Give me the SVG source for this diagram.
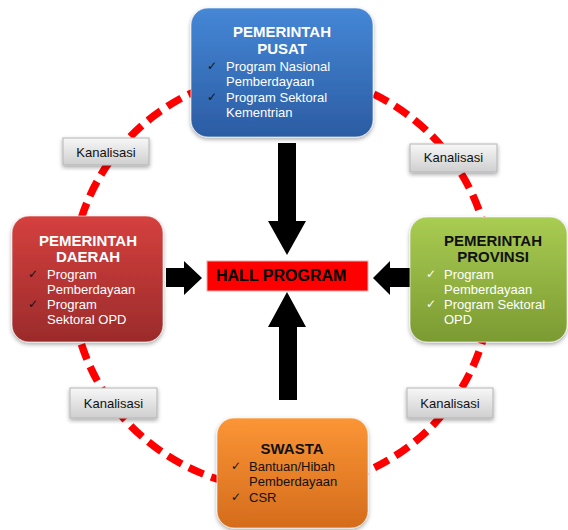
<svg xmlns="http://www.w3.org/2000/svg" width="568" height="530" viewBox="0 0 568 530">
<defs>
<linearGradient id="gBlue" x1="0" y1="0" x2="0" y2="1"><stop offset="0" stop-color="#4587d6"/><stop offset="1" stop-color="#2b5ca3"/></linearGradient>
<linearGradient id="gRed" x1="0" y1="0" x2="0" y2="1"><stop offset="0" stop-color="#d5403e"/><stop offset="1" stop-color="#9b2b2b"/></linearGradient>
<linearGradient id="gGreen" x1="0" y1="0" x2="0" y2="1"><stop offset="0" stop-color="#a9cc52"/><stop offset="1" stop-color="#7b9a32"/></linearGradient>
<linearGradient id="gOrange" x1="0" y1="0" x2="0" y2="1"><stop offset="0" stop-color="#fb9535"/><stop offset="1" stop-color="#d46c1c"/></linearGradient>
<linearGradient id="gLabel" x1="0" y1="0" x2="0" y2="1"><stop offset="0" stop-color="#f7f7f7"/><stop offset="1" stop-color="#cfcfcf"/></linearGradient>
<filter id="sh" x="-10%" y="-10%" width="120%" height="130%"><feDropShadow dx="0" dy="2" stdDeviation="2" flood-color="#000" flood-opacity="0.35"/></filter>
</defs>
<style>
.box{stroke:#ffffff;stroke-opacity:0.6;stroke-width:1;filter:url(#sh)}
.t{font-family:"Liberation Sans",Arial,sans-serif}
.title{font-size:15px;font-weight:bold;text-anchor:middle}
.item{font-size:13px}
.chk{font-family:"DejaVu Sans",sans-serif;font-size:12px}
.w{fill:#ffffff}
.k{fill:#111111}
.lab rect{fill:url(#gLabel);stroke:#b5b5b5;stroke-width:1}
.lab text{font-family:"Liberation Sans",Arial,sans-serif;font-size:13px;fill:#111;text-anchor:middle}
.arr{fill:#000}
</style>
<g id="connectors">
<ellipse cx="281.5" cy="281" rx="210" ry="208" fill="none" stroke="#ff0000" stroke-width="7.5" stroke-dasharray="16 8"/>
<path class="arr" d="M278,143 H296 V221 H306 L287,255 L268,221 H278 Z"/>
<path class="arr" d="M279,400 H297 V327 H306 L287,292 L268,327 H279 Z"/>
<path class="arr" d="M166,268 H184 V261 L202,278 L184,295 V287 H166 Z"/>
<path class="arr" d="M410,268 H390 V261 L373,278 L390,295 V287 H410 Z"/>
</g>
<g id="label-tl" class="lab"><rect x="63" y="138" width="86" height="27" filter="url(#sh)"/><text x="106" y="157">Kanalisasi</text></g>
<g id="label-tr" class="lab"><rect x="410" y="144" width="87" height="28" filter="url(#sh)"/><text x="453.5" y="162">Kanalisasi</text></g>
<g id="label-bl" class="lab"><rect x="70" y="388" width="87" height="30" filter="url(#sh)"/><text x="113.5" y="408">Kanalisasi</text></g>
<g id="label-br" class="lab"><rect x="407" y="388" width="86" height="30" filter="url(#sh)"/><text x="450" y="408">Kanalisasi</text></g>
<g id="hall">
<rect x="207" y="261" width="161" height="30" fill="#ff0000" stroke="#e8b0b0" stroke-width="1"/>
<text class="t" x="216" y="281" font-size="16" font-weight="bold" fill="#000">HALL PROGRAM</text>
</g>
<g id="pusat">
<rect class="box" x="191" y="8" width="182" height="129" rx="17" fill="url(#gBlue)"/>
<text class="t title w" x="282" y="37">PEMERINTAH</text>
<text class="t title w" x="282" y="54">PUSAT</text>
<text class="chk k" x="207" y="70">✓</text>
<text class="t item w" x="226" y="71">Program Nasional</text>
<text class="t item w" x="226" y="86">Pemberdayaan</text>
<text class="chk k" x="207" y="101">✓</text>
<text class="t item w" x="226" y="102">Program Sektoral</text>
<text class="t item w" x="226" y="117">Kementrian</text>
</g>
<g id="daerah">
<rect class="box" x="12" y="216" width="151" height="126" rx="17" fill="url(#gRed)"/>
<text class="t title w" x="88" y="246">PEMERINTAH</text>
<text class="t title w" x="88" y="262">DAERAH</text>
<text class="chk k" x="28" y="278">✓</text>
<text class="t item w" x="47" y="279">Program</text>
<text class="t item w" x="47" y="294">Pemberdayaan</text>
<text class="chk k" x="28" y="308">✓</text>
<text class="t item w" x="47" y="309">Program</text>
<text class="t item w" x="47" y="324">Sektoral OPD</text>
</g>
<g id="provinsi">
<rect class="box" x="410" y="217" width="157" height="125" rx="17" fill="url(#gGreen)"/>
<text class="t title k" x="493" y="246">PEMERINTAH</text>
<text class="t title k" x="493" y="262">PROVINSI</text>
<text class="chk w" x="426" y="278">✓</text>
<text class="t item w" x="444" y="279">Program</text>
<text class="t item w" x="444" y="294">Pemberdayaan</text>
<text class="chk w" x="426" y="308">✓</text>
<text class="t item w" x="444" y="309">Program Sektoral</text>
<text class="t item w" x="444" y="324">OPD</text>
</g>
<g id="swasta">
<rect class="box" x="217" y="418" width="151" height="110" rx="17" fill="url(#gOrange)"/>
<text class="t title k" x="292" y="454">SWASTA</text>
<text class="chk k" x="231" y="470">✓</text>
<text class="t item k" x="249" y="471">Bantuan/Hibah</text>
<text class="t item k" x="249" y="486">Pemberdayaan</text>
<text class="chk k" x="231" y="501">✓</text>
<text class="t item k" x="249" y="502">CSR</text>
</g>
</svg>
